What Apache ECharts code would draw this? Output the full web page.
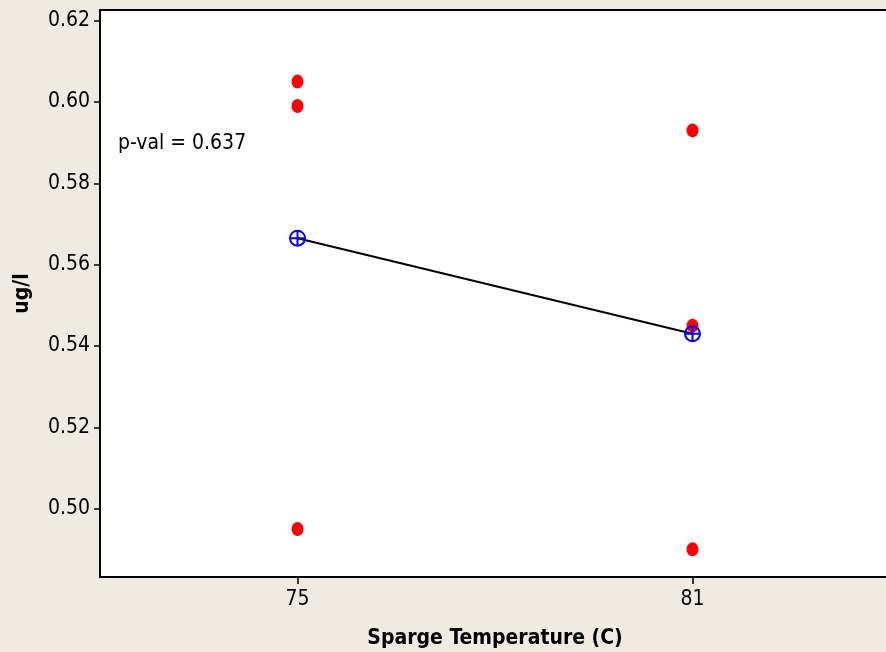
<!DOCTYPE html>
<html><head><meta charset="utf-8">
<script src="https://cdn.jsdelivr.net/npm/echarts@6/dist/echarts.min.js"></script>
<style>html,body{margin:0;padding:0;background:#EFEBE1}#c{width:886px;height:652px}</style>
</head><body><div id="c"></div>
<script>
const categories = [75, 81];
const obs75 = [0.605, 0.599, 0.495];
const obs81 = [0.593, 0.545, 0.490];
const means = [0.5665, 0.5430];
const yTicks = [0.50, 0.52, 0.54, 0.56, 0.58, 0.60, 0.62];
const pText = 'p-val = 0.637';

const F = '"DejaVu Sans Condensed","Liberation Sans Narrow","Liberation Sans",sans-serif';
const pts = [];
obs75.forEach(v => pts.push([categories[0], v]));
obs81.forEach(v => pts.push([categories[1], v]));
const meanPts = categories.map((c, i) => [c, means[i]]);

const chart = echarts.init(document.getElementById('c'));
chart.setOption({
  backgroundColor: '#EFEBE1',
  animation: false,
  grid: { left: 100, top: 10, right: -4, bottom: 75, show: true, backgroundColor: '#fff', borderColor: '#000', borderWidth: 2, containLabel: false, outerBoundsMode: 'none' },
  xAxis: {
    type: 'value', min: 72, max: 84,
    name: 'Sparge Temperature (C)', nameLocation: 'middle', nameGap: 51,
    nameTextStyle: { fontFamily: F, fontWeight: 'bold', fontSize: 21, color: '#000' },
    axisLine: { show: true, lineStyle: { color: '#000', width: 2 } },
    axisTick: { show: true, length: 7, lineStyle: { color: '#000', width: 1.5 }, customValues: categories },
    axisLabel: { fontFamily: F, fontSize: 21, color: '#000', margin: 12, customValues: categories },
    splitLine: { show: false }
  },
  yAxis: {
    type: 'value', min: 0.4832, max: 0.6226,
    name: 'ug/l', nameLocation: 'middle', nameGap: 67,
    nameTextStyle: { fontFamily: F, fontWeight: 'bold', fontSize: 21, color: '#000' },
    axisLine: { show: true, lineStyle: { color: '#000', width: 2 } },
    axisTick: { show: true, length: 6, lineStyle: { color: '#000', width: 1.5 }, customValues: yTicks },
    axisLabel: { fontFamily: F, fontSize: 21, color: '#000', margin: 10, customValues: yTicks, formatter: v => v.toFixed(2) },
    splitLine: { show: false }
  },
  graphic: [{
    type: 'text', left: 118, top: 133,
    style: { text: pText, fontFamily: F, fontSize: 21, fill: '#000' }
  }],
  series: [
    {
      type: 'scatter', data: pts, symbol: 'circle', symbolSize: [12, 14],
      itemStyle: { color: '#FF0000', opacity: 1 }, z: 2
    },
    {
      type: 'line', data: meanPts, lineStyle: { color: '#000', width: 2 },
      symbol: 'path://M0,-1A1,1 0 1,1 0,1A1,1 0 1,1 0,-1ZM-1,0L1,0M0,-1L0,1',
      symbolSize: 15, showSymbol: true,
      itemStyle: { color: 'none', borderColor: '#0000FF', borderWidth: 2, opacity: 1 }, z: 3
    }
  ]
});
</script></body></html>
